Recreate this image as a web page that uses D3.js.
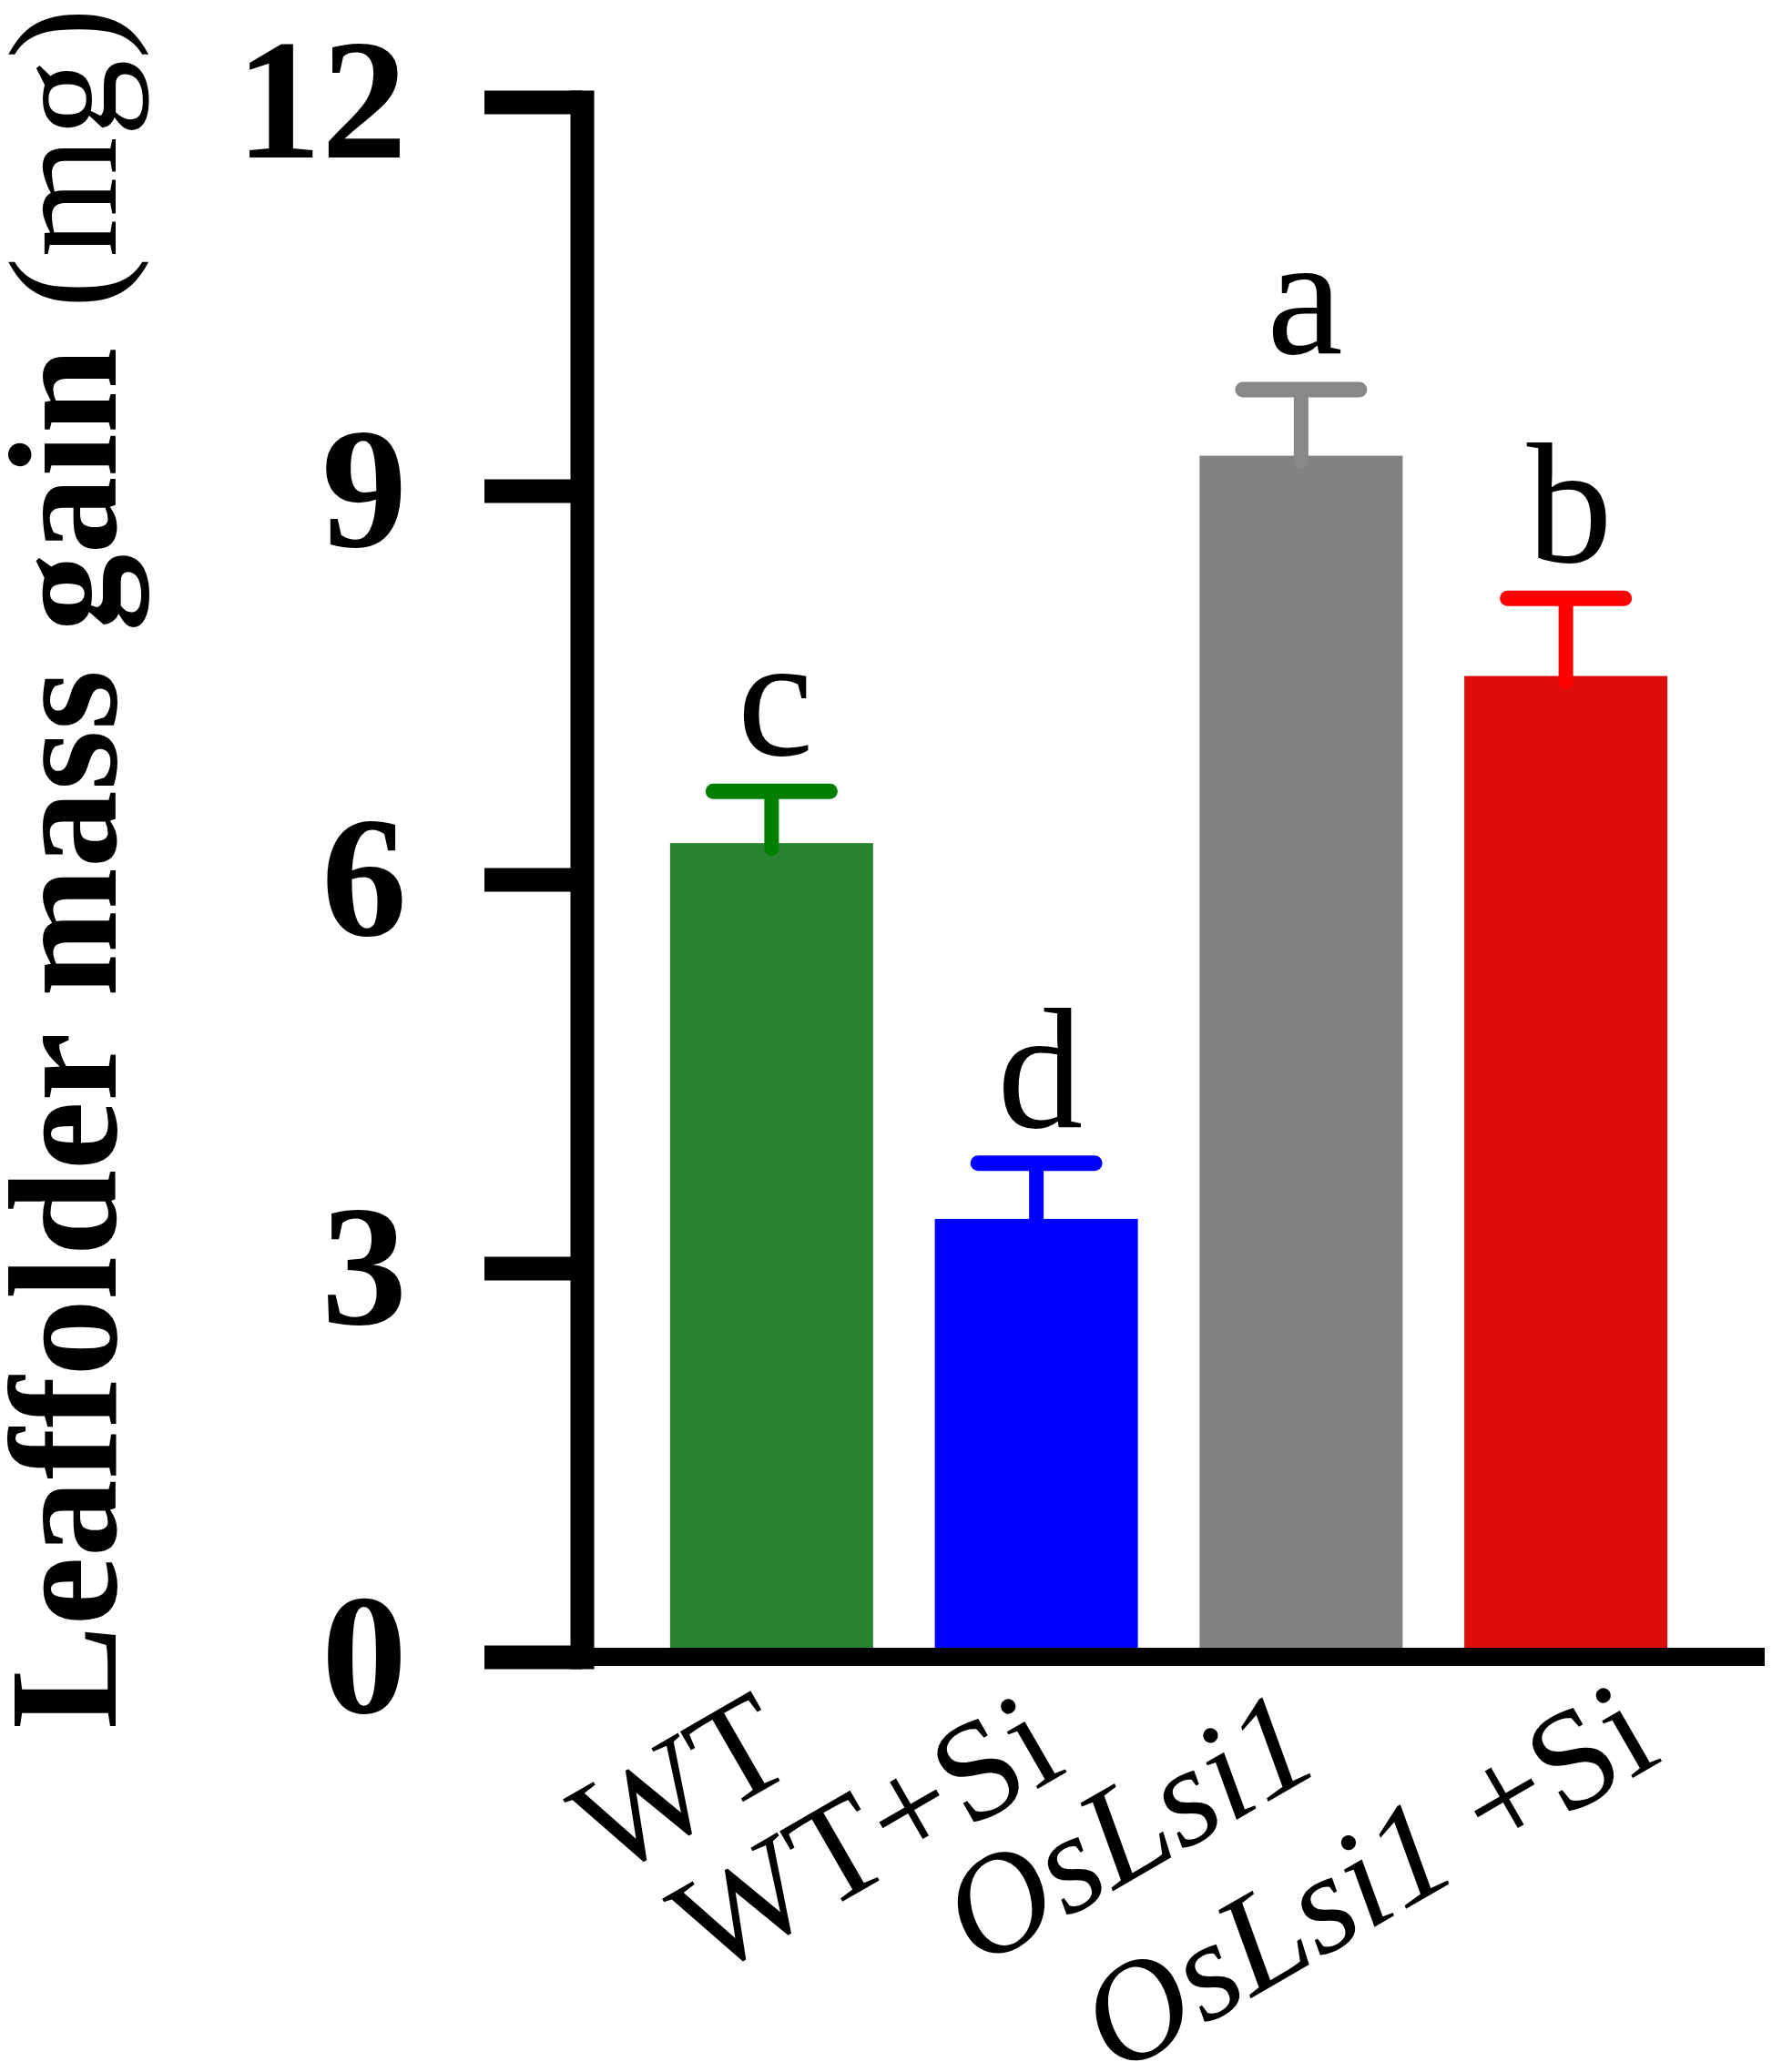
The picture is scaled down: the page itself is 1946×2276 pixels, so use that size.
<!DOCTYPE html>
<html lang="en">
<head>
    <meta charset="UTF-8">
    <title>Leaffolder mass gain</title>
    <script src="https://d3js.org/d3.v7.min.js"></script>
    <style>
        body { margin: 0; background: #fff; }
    </style>
</head>
<body>
    <div id="chart"></div>
    <script>
        // values
        const categories = ["WT", "WT+Si", "OsLsi1", "OsLsi1 +Si"];
        const means = [6.28, 3.38, 9.27, 7.57];
        const errors = [0.40, 0.43, 0.51, 0.60];
        const letters = ["c", "d", "a", "b"];
        const yTicks = [0, 3, 6, 9, 12];

        const barColors = ["#27832d", "#0000ff", "#828282", "#dd0d0d"];
        const errColors = ["#007f00", "#0000ff", "#888888", "#ff0000"];
        const serif = "'Liberation Serif', 'Times New Roman', Times, serif";

        const svg = d3.select("#chart").append("svg")
            .attr("width", 1946)
            .attr("height", 2276);

        // scales
        const y = d3.scaleLinear().domain([0, 12]).range([1820, 112]);
        const x = d3.scaleBand()
            .domain(categories)
            .range([702, 1865])
            .paddingInner(0.233)
            .paddingOuter(0.1165);

        const rows = categories.map((c, i) => ({
            name: c, mean: means[i], err: errors[i], letter: letters[i],
            fill: barColors[i], ecol: errColors[i]
        }));

        // bars
        svg.selectAll(".bar")
            .data(rows)
            .enter().append("rect")
            .attr("class", "bar")
            .attr("x", d => x(d.name))
            .attr("y", d => y(d.mean))
            .attr("width", x.bandwidth())
            .attr("height", d => y(0) - y(d.mean))
            .attr("fill", d => d.fill);

        // error bars (upper only)
        const eb = svg.selectAll(".err")
            .data(rows)
            .enter().append("g")
            .attr("class", "err");
        eb.append("line")
            .attr("x1", d => x(d.name) + x.bandwidth() / 2)
            .attr("x2", d => x(d.name) + x.bandwidth() / 2)
            .attr("y1", d => y(d.mean) + 6)
            .attr("y2", d => y(d.mean + d.err))
            .attr("stroke", d => d.ecol)
            .attr("stroke-width", 16)
            .attr("stroke-linecap", "round");
        eb.append("line")
            .attr("x1", d => x(d.name) + x.bandwidth() / 2 - 64)
            .attr("x2", d => x(d.name) + x.bandwidth() / 2 + 64)
            .attr("y1", d => y(d.mean + d.err))
            .attr("y2", d => y(d.mean + d.err))
            .attr("stroke", d => d.ecol)
            .attr("stroke-width", 17)
            .attr("stroke-linecap", "round");

        // significance letters
        svg.selectAll(".sig")
            .data(rows)
            .enter().append("text")
            .attr("class", "sig")
            .attr("x", d => x(d.name) + x.bandwidth() / 2 + 4)
            .attr("y", d => y(d.mean + d.err) - 40)
            .attr("text-anchor", "middle")
            .attr("font-family", serif)
            .attr("font-size", 188)
            .attr("fill", "#000")
            .text(d => d.letter);

        // y axis
        const yAxis = svg.append("g")
            .attr("transform", "translate(639,0)")
            .call(d3.axisLeft(y).tickValues(yTicks).tickSize(107).tickSizeOuter(0).tickPadding(85));
        yAxis.attr("font-family", serif).attr("font-size", 188);
        yAxis.select(".domain")
            .attr("stroke", "#000")
            .attr("stroke-width", 26)
            .attr("stroke-linecap", "square");
        yAxis.selectAll(".tick line")
            .attr("stroke", "#000")
            .attr("stroke-width", 26);
        yAxis.selectAll(".tick text")
            .attr("font-weight", "bold")
            .attr("fill", "#000");

        // x axis baseline
        svg.append("line")
            .attr("x1", 639)
            .attr("x2", 1938)
            .attr("y1", y(0))
            .attr("y2", y(0))
            .attr("stroke", "#000")
            .attr("stroke-width", 20);

        // rotated category labels
        const labelDx = [30, 36, 26, 108];
        const labelDy = [124, 125, 123, 113];
        const xl = svg.selectAll(".xlab")
            .data(rows)
            .enter().append("text")
            .attr("class", "xlab")
            .attr("transform", (d, i) =>
                `translate(${x(d.name) + x.bandwidth() / 2 + labelDx[i]},${y(0) + labelDy[i]}) rotate(-30)`)
            .attr("text-anchor", "end")
            .attr("font-family", serif)
            .attr("font-size", 155)
            .attr("fill", "#000");
        xl.each(function(d) {
            const t = d3.select(this);
            if (d.name.startsWith("OsLsi1")) {
                t.append("tspan").attr("font-style", "italic").text("OsLsi1");
                const rest = d.name.slice(6);
                if (rest) t.append("tspan").text(rest);
            } else {
                t.text(d.name);
            }
        });

        // y axis title
        const title = svg.append("text")
            .attr("transform", "translate(127,1899) rotate(-90)")
            .attr("font-family", serif)
            .attr("font-size", 170)
            .attr("fill", "#000");
        title.append("tspan").attr("font-weight", "bold").text("Leaffolder mass gain ");
        title.append("tspan").text("(mg)");
    </script>
</body>
</html>
